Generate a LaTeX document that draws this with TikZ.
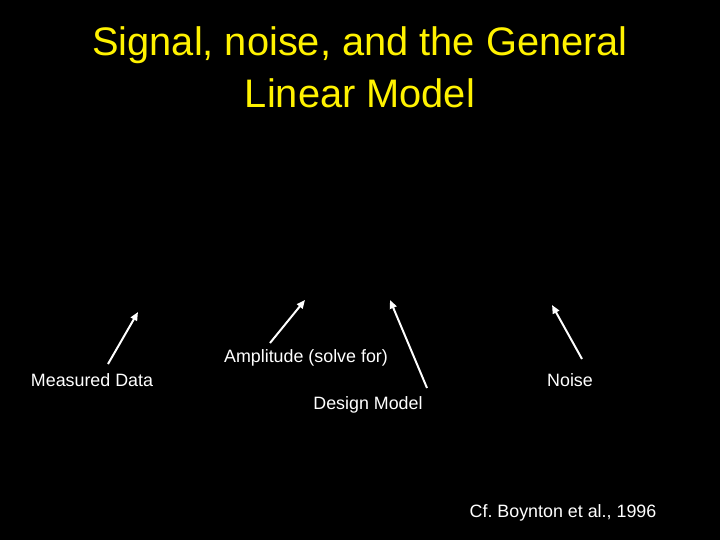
\documentclass[tikz,border=0pt]{standalone}
\usepackage{fontspec}
\setmainfont{Liberation Sans}
\usetikzlibrary{arrows.meta}

\begin{document}
\begin{tikzpicture}[x=0.025cm,y=-0.025cm]
\tikzset{
  label/.style={white, font=\fontsize{12.7}{15}\selectfont, inner sep=0pt},
  pointer/.style={white, line width=1.4pt, -{Triangle[length=6pt,width=5pt]}}
}
\fill[black] (0,0) rectangle (720,540);
\useasboundingbox (0,0) rectangle (720,540);

% Title
\node[yellow, font=\fontsize{28.3}{37}\selectfont, align=center] (title) at (360,67)
  {Signal, noise, and the General\\Linear Model};

% Labels
\node[label] (data) at (92,380) {Measured Data};
\node[label] (amp) at (306,358) {Amplitude (solve for)};
\node[label] (noise) at (570,380) {Noise};
\node[label] (design) at (368,405) {Design Model};
\node[label] (cite) at (563,513) {Cf.\ Boynton et al., 1996};

% Arrow ends
\foreach \i/\x/\y/\u/\v in {1/108/364/138/312, 2/270/343/305/300, 3/427/388/390/300, 4/582/359/552/305} {
    \coordinate (s\i) at (\x,\y);
    \coordinate (e\i) at (\u,\v);
}

% Arrows
\draw[pointer] (s1) -- (e1);
\draw[pointer] (s2) -- (e2);
\draw[pointer] (s3) -- (e3);
\draw[pointer] (s4) -- (e4);

\end{tikzpicture}
\end{document}
